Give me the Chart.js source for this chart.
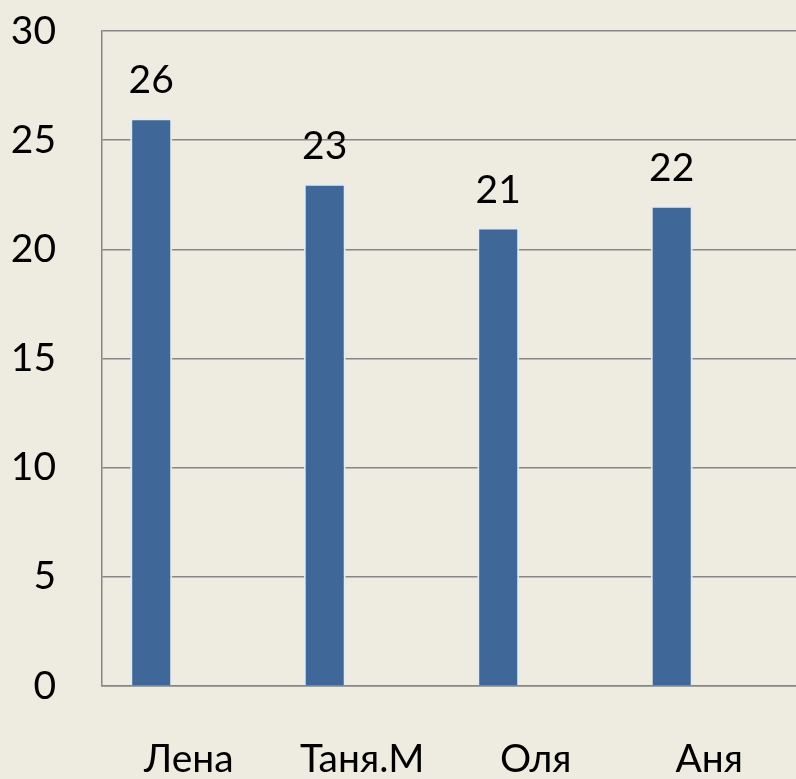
<!DOCTYPE html>
<html lang="ru">
<head>
    <meta charset="UTF-8">
    <title>Chart</title>
    <script src="https://cdn.jsdelivr.net/npm/chart.js"></script>
    <style>
        html, body { margin: 0; padding: 0; background: #EEECE1; }
        #wrap { width: 796px; height: 779px; }
    </style>
</head>
<body>
    <div id="wrap">
        <canvas id="barChart" width="796" height="779"></canvas>
    </div>
    <script>
        const names = ['Лена', 'Таня.М', 'Оля', 'Аня'];
        const values = [26, 23, 21, 22];
        const yTicks = [0, 5, 10, 15, 20, 25, 30];

        // labels over the bars
        const valueLabels = {
            id: 'valueLabels',
            afterDatasetsDraw(chart) {
                const ctx = chart.ctx;
                const meta = chart.getDatasetMeta(0);
                ctx.save();
                ctx.font = '39px Lato';
                ctx.fillStyle = '#000';
                ctx.textAlign = 'center';
                ctx.textBaseline = 'bottom';
                meta.data.forEach((bar, i) => {
                    ctx.fillText(values[i], bar.x, bar.y - 18);
                });
                ctx.restore();
            }
        };

        const ctx = document.getElementById('barChart').getContext('2d');
        new Chart(ctx, {
            type: 'bar',
            data: {
                labels: names,
                datasets: [{
                    data: values,
                    backgroundColor: '#3F6797',
                    borderColor: '#E2EAF3',
                    borderWidth: 2,
                    barPercentage: 0.56,
                    categoryPercentage: 0.865
                }, {
                    data: names.map(() => null),
                    barPercentage: 0.56,
                    categoryPercentage: 0.865
                }]
            },
            options: {
                responsive: false,
                animation: false,
                layout: { padding: 0 },
                plugins: {
                    legend: { display: false },
                    tooltip: { enabled: false }
                },
                scales: {
                    x: {
                        grid: { display: false, drawTicks: false },
                        border: { color: '#868686', width: 1.5 },
                        ticks: {
                            color: '#000',
                            font: { family: 'Lato', size: 39 },
                            padding: 50,
                            maxRotation: 0
                        },
                        afterFit(axis) { axis.height = 93; }
                    },
                    y: {
                        min: 0,
                        max: 30,
                        afterBuildTicks(axis) {
                            axis.ticks = yTicks.map(v => ({ value: v }));
                        },
                        grid: { color: '#868686', lineWidth: 1.5, drawTicks: false },
                        border: { color: '#868686', width: 1.5 },
                        ticks: {
                            color: '#000',
                            font: { family: 'Lato', size: 39 },
                            padding: 46
                        },
                        afterFit(axis) {
                            axis.width = 102;
                            axis.paddingTop = 31;
                            axis.paddingBottom = 0;
                        }
                    }
                }
            },
            plugins: [valueLabels]
        });
    </script>
</body>
</html>
